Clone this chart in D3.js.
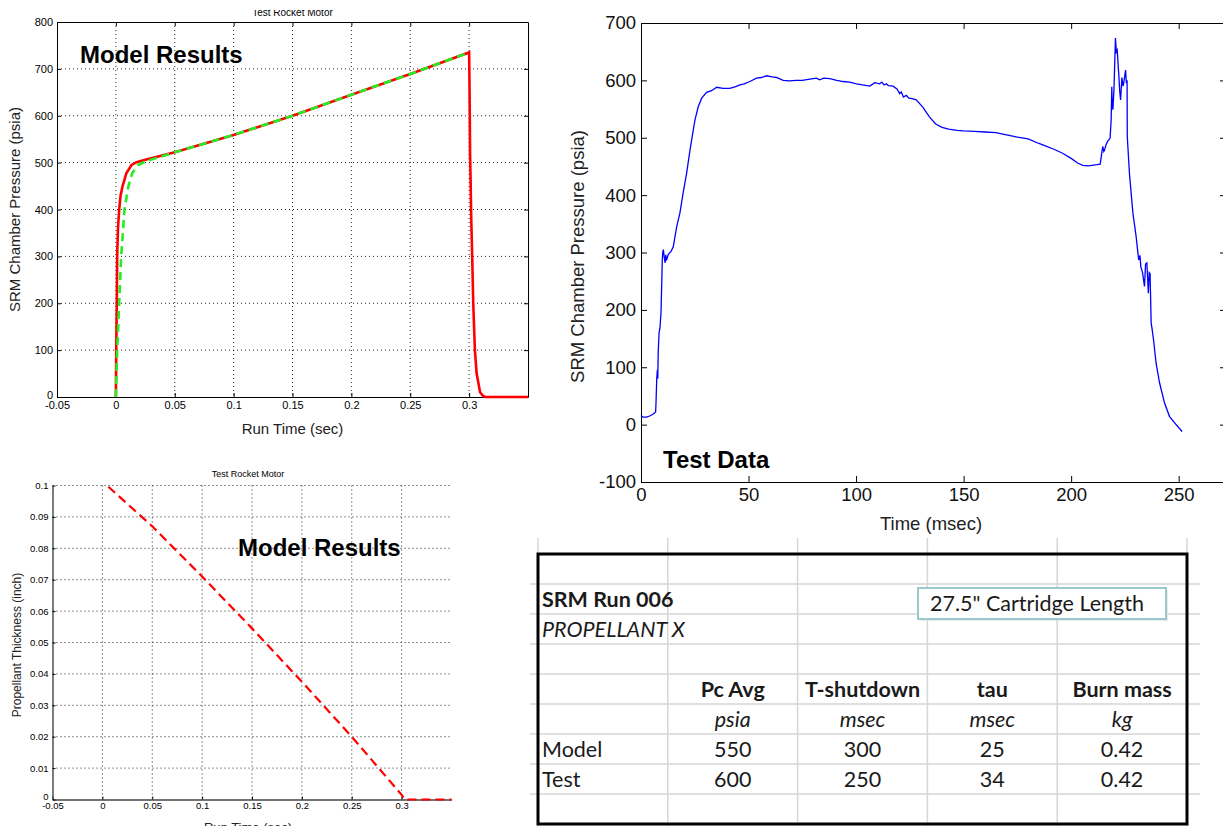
<!DOCTYPE html>
<html><head><meta charset="utf-8">
<script src="https://cdn.jsdelivr.net/npm/d3@7"></script>
<style>body{margin:0;background:#fff}svg{display:block;background:#fff}</style>
</head><body><svg id="c" width="1223" height="826"></svg>
<script>
// ---------------- DATA ----------------
// Panel 1: model chamber pressure (sec, psia)
const redTime = [0,0.0003,0.0008,0.0011,0.0018,0.0028,0.004,0.0057,0.009,0.0133,0.0176,0.025,0.05,0.1,0.15,0.2,0.25,0.3,0.3004,0.3008,0.3012,0.3018,0.3026,0.3035,0.3049,0.3064,0.3093,0.3115,0.3136,0.35];
const redPressure = [0,100,200,300,360,400,430,450,478,495,501,506,522,559,600,645,689,735,650,520,470,380,300,200,100,50,10,3,0,0];
const greenTime = [0,0.0011,0.0028,0.0045,0.0073,0.0107,0.014,0.019,0.0256,0.05,0.1,0.15,0.2,0.25,0.3];
const greenPressure = [0,100,200,300,400,450,478,495,503,522,559,600,645,689,735];
const p1XTicks = [-0.05,0,0.05,0.1,0.15,0.2,0.25,0.3];
const p1XTickLabels = ["-0.05","0","0.05","0.1","0.15","0.2","0.25","0.3"];
const p1YTicks = [0,100,200,300,400,500,600,700,800];
const p1YTickLabels = ["0","100","200","300","400","500","600","700","800"];

// Panel 2: test data (msec, psia)
const testTime = [0,1,2.5,4,5.5,6.8,7,7.3,7.6,7.8,8.0,8.4,8.8,9.3,9.6,9.9,10.1,10.4,10.8,11.2,11.5,11.8,12.7,14,15,16.6,18.1,19.6,21.2,22.8,23.8,25.1,26.6,28.2,30.5,32.8,35.2,38.2,41.3,44,46,48,50.6,53.7,56,58.4,61,63,66.1,69,72.3,75,78.5,81.6,83,85,87.8,91,94,97,100.2,103,106.4,108.7,111,112,113,114.1,115,117.2,119,120.3,121,122,123.4,124.5,126,128,131.1,134.2,137,140,143,147,150,155,160,165,170,175,180,185,188,192,196,200,203,205.4,208,212,213.5,214.7,215.2,215.5,216.2,217,218.1,218.6,218.9,219.1,219.4,219.9,220.6,221,221.4,222.2,222.6,223,223.6,224.1,224.4,225,225.3,225.7,226,226.1,227.1,228.7,230.2,231.4,232,232.4,233.2,234.1,234.6,235.2,235.9,236.3,236.7,237.2,237.7,238.3,239.5,241.1,243.4,245.7,248.8,251.6];
const testPressure = [16,13,13,15,18,22,40,78,95,80,125,160,168,195,240,287,300,305,292,282,296,286,297,302,310,345,369,404,438,479,502,531,554,569,579,582,588,586,586,589,592,594,598,604,605,608,606,605,600,599,600,600,602,604,601,604,603,600,598,597,594,592,590,596,594,597,592,594,591,590,585,577,580,571,574,569,568,566,553,536,524,518,515,513,512,511,510,509,505,501,498,490,486,480,473,464,456,452,451,453,454,485,476,478,488,494,499,531,589,560,549,583,674,650,653,607,580,566,605,590,594,610,618,595,600,502,438,369,328,287,295,275,265,241,280,282,229,265,263,177,165,148,107,73,38,14.5,0,-12];
const p2XTicks = [0,50,100,150,200,250];
const p2XTickLabels = ["0","50","100","150","200","250"];
const p2YTicks = [-100,0,100,200,300,400,500,600,700];
const p2YTickLabels = ["-100","0","100","200","300","400","500","600","700"];

// Panel 3: propellant thickness (sec, inch)
const thickTime = [0.006,0.05,0.1,0.15,0.2,0.25,0.3,0.303,0.35];
const thickValue = [0.0996,0.087,0.071,0.0545,0.0375,0.020,0.0015,0,0];
const p3XTicks = [-0.05,0,0.05,0.1,0.15,0.2,0.25,0.3];
const p3XTickLabels = ["-0.05","0","0.05","0.1","0.15","0.2","0.25","0.3"];
const p3YTicks = [0,0.01,0.02,0.03,0.04,0.05,0.06,0.07,0.08,0.09,0.1];
const p3YTickLabels = ["0","0.01","0.02","0.03","0.04","0.05","0.06","0.07","0.08","0.09","0.1"];

// Table
const tableTitle = "SRM Run 006";
const tableSubtitle = "PROPELLANT X";
const tableNote = "27.5\" Cartridge Length";
const tableHeaders = ["Pc Avg","T-shutdown","tau","Burn mass"];
const tableUnits = ["psia","msec","msec","kg"];
const tableRowLabels = ["Model","Test"];
const pcAvg = ["550","600"];
const tShutdown = ["300","250"];
const tauValues = ["25","34"];
const burnMass = ["0.42","0.42"];

// ---------------- DRAW ----------------
const svg = d3.select("#c");
const FONT = "'Liberation Sans', Arial, Helvetica, sans-serif";
const zip = (a,b)=>a.map((v,i)=>[v,b[i]]);

function grid(g, xs, ys, x, y, box){
  g.append("g").selectAll("line").data(xs).join("line")
    .attr("x1",d=>x(d)).attr("x2",d=>x(d)).attr("y1",box.t).attr("y2",box.b)
    .attr("stroke","#222").attr("stroke-width",1).attr("stroke-dasharray","1,3");
  g.append("g").selectAll("line").data(ys).join("line")
    .attr("y1",d=>y(d)).attr("y2",d=>y(d)).attr("x1",box.l).attr("x2",box.r)
    .attr("stroke","#222").attr("stroke-width",1).attr("stroke-dasharray","1,3");
}
function styleAxis(sel, size, color){
  sel.selectAll("text").attr("font-family",FONT).attr("font-size",size).attr("fill",color||"#000");
  sel.selectAll("line").attr("stroke","#000");
  sel.select(".domain").attr("stroke","#000");
}

// ===== Panel 1 =====
{
  const B = {l:57, r:528, t:22, b:397};
  const x = d3.scaleLinear().domain([-0.05,0.35]).range([B.l,B.r]);
  const y = d3.scaleLinear().domain([0,800]).range([B.b,B.t]);
  const g = svg.append("g");
  grid(g, p1XTicks.slice(1), p1YTicks.slice(1,-1), x, y, B);
  const ax = g.append("g").attr("transform",`translate(0,${B.b})`)
    .call(d3.axisBottom(x).tickValues(p1XTicks).tickFormat((d,i)=>p1XTickLabels[i]).tickSizeInner(-4).tickSizeOuter(0).tickPadding(4));
  styleAxis(ax,"11px");
  const ay = g.append("g").attr("transform",`translate(${B.l},0)`)
    .call(d3.axisLeft(y).tickValues(p1YTicks).tickFormat((d,i)=>p1YTickLabels[i]).tickSizeInner(-4).tickSizeOuter(0).tickPadding(4));
  styleAxis(ay,"11px");
  ay.selectAll(".tick text").filter((d,i)=>i===0).attr("dy","0.1em");
  const at = g.append("g").attr("transform",`translate(0,${B.t})`)
    .call(d3.axisTop(x).tickValues(p1XTicks).tickFormat("").tickSizeInner(-4).tickSizeOuter(0));
  styleAxis(at);
  const ar = g.append("g").attr("transform",`translate(${B.r},0)`)
    .call(d3.axisRight(y).tickValues(p1YTicks).tickFormat("").tickSizeInner(-4).tickSizeOuter(0));
  styleAxis(ar);
  const line = d3.line().x(d=>x(d[0])).y(d=>y(d[1]));
  g.append("path").attr("d",line(zip(redTime,redPressure))).attr("fill","none")
    .attr("stroke","#ff0000").attr("stroke-width",2.6);
  g.append("path").attr("d",line(zip(greenTime,greenPressure))).attr("fill","none")
    .attr("stroke","#22ee22").attr("stroke-width",2.6).attr("stroke-dasharray","8,5");
  svg.append("clipPath").attr("id","t1clip").append("rect").attr("x",150).attr("y",10).attr("width",300).attr("height",12);
  g.append("text").attr("clip-path","url(#t1clip)").attr("x",(B.l+B.r)/2).attr("y",15.5).attr("text-anchor","middle")
    .attr("font-family",FONT).attr("font-size","10px").text("Test Rocket Motor");
  g.append("text").attr("transform",`translate(20,${(B.t+B.b)/2}) rotate(-90)`).attr("text-anchor","middle")
    .attr("font-family",FONT).attr("font-size","15px").attr("fill","#222").text("SRM Chamber Pressure (psia)");
  g.append("text").attr("x",(B.l+B.r)/2).attr("y",434).attr("text-anchor","middle")
    .attr("font-family",FONT).attr("font-size","15px").attr("fill","#222").text("Run Time (sec)");
  g.append("text").attr("x",80).attr("y",63).attr("font-family",FONT).attr("font-weight","bold")
    .attr("font-size","24px").text("Model Results");
}

// ===== Panel 2 =====
{
  const B = {l:641, r:1226, t:23, b:482};
  const x = d3.scaleLinear().domain([0,272]).range([B.l,B.r]);
  const y = d3.scaleLinear().domain([-100,700]).range([B.b,B.t]);
  const g = svg.append("g");
  const ax = g.append("g").attr("transform",`translate(0,${B.b})`)
    .call(d3.axisBottom(x).tickValues(p2XTicks).tickFormat((d,i)=>p2XTickLabels[i]).tickSizeInner(-6).tickSizeOuter(0).tickPadding(6));
  styleAxis(ax,"18.5px","#111");
  const ay = g.append("g").attr("transform",`translate(${B.l},0)`)
    .call(d3.axisLeft(y).tickValues(p2YTicks).tickFormat((d,i)=>p2YTickLabels[i]).tickSizeInner(-6).tickSizeOuter(0).tickPadding(5));
  styleAxis(ay,"18.5px","#111");
  const at = g.append("g").attr("transform",`translate(0,${B.t})`)
    .call(d3.axisTop(x).tickValues(p2XTicks).tickFormat("").tickSizeInner(-6).tickSizeOuter(0));
  styleAxis(at);
  const ar = g.append("g").attr("transform",`translate(${B.r},0)`)
    .call(d3.axisRight(y).tickValues(p2YTicks).tickFormat("").tickSizeInner(-6).tickSizeOuter(0));
  styleAxis(ar);
  const line = d3.line().x(d=>x(d[0])).y(d=>y(d[1]));
  g.append("path").attr("d",line(zip(testTime,testPressure))).attr("fill","none")
    .attr("stroke","#0000ff").attr("stroke-width",1.3);
  g.append("text").attr("transform",`translate(584,${(B.t+B.b)/2+4}) rotate(-90)`).attr("text-anchor","middle")
    .attr("font-family",FONT).attr("font-size","18.5px").attr("fill","#222").text("SRM Chamber Pressure (psia)");
  g.append("text").attr("x",931).attr("y",530).attr("text-anchor","middle")
    .attr("font-family",FONT).attr("font-size","18.5px").attr("fill","#222").text("Time (msec)");
  g.append("text").attr("x",663).attr("y",468).attr("font-family",FONT).attr("font-weight","bold")
    .attr("font-size","24px").text("Test Data");
}

// ===== Panel 3 =====
{
  const B = {l:52.5, r:451.5, t:485.5, b:799.5};
  const x = d3.scaleLinear().domain([-0.05,0.35]).range([B.l,B.r]);
  const y = d3.scaleLinear().domain([0,0.1]).range([B.b,B.t]);
  const g = svg.append("g");
  grid(g, p3XTicks.slice(1), p3YTicks.slice(1), x, y, B);
  const ax = g.append("g").attr("transform",`translate(0,${B.b})`)
    .call(d3.axisBottom(x).tickValues(p3XTicks).tickFormat((d,i)=>p3XTickLabels[i]).tickSizeInner(-3).tickSizeOuter(0).tickPadding(3));
  styleAxis(ax,"9.5px");
  ax.select(".domain").attr("stroke","#444").attr("stroke-width",1.6);
  const ay = g.append("g").attr("transform",`translate(${B.l},0)`)
    .call(d3.axisLeft(y).tickValues(p3YTicks).tickFormat((d,i)=>p3YTickLabels[i]).tickSizeInner(-3).tickSizeOuter(0).tickPadding(4));
  styleAxis(ay,"9.5px");
  ay.selectAll(".tick text").filter((d,i)=>i===0).attr("dy","0.05em");
  ay.select(".domain").attr("stroke","#444").attr("stroke-width",1.4);
  const line = d3.line().x(d=>x(d[0])).y(d=>y(d[1]));
  g.append("path").attr("d",line(zip(thickTime,thickValue))).attr("fill","none")
    .attr("stroke","#ff0000").attr("stroke-width",2.2).attr("stroke-dasharray","9,5");
  g.append("text").attr("x",248).attr("y",477).attr("text-anchor","middle")
    .attr("font-family",FONT).attr("font-size","9px").text("Test Rocket Motor");
  g.append("text").attr("transform",`translate(21,645) rotate(-90)`).attr("text-anchor","middle")
    .attr("font-family",FONT).attr("font-size","12px").attr("fill","#222").text("Propellant Thickness (inch)");
  g.append("text").attr("x",248).attr("y",832).attr("text-anchor","middle")
    .attr("font-family",FONT).attr("font-size","13px").attr("fill","#222").text("Run Time (sec)");
  g.append("text").attr("x",238).attr("y",556).attr("font-family",FONT).attr("font-weight","bold")
    .attr("font-size","24px").text("Model Results");
}

// ===== Table =====
{
  const TF = "Lato, 'Open Sans', sans-serif";
  const cx = d3.scaleLinear().domain([0,5]).range([538,1187]);
  const ry = d3.scaleLinear().domain([0,9]).range([554,824]);
  const g = svg.append("g");
  g.append("g").selectAll("line").data(d3.range(0,6)).join("line")
    .attr("x1",d=>cx(d)).attr("x2",d=>cx(d)).attr("y1",538).attr("y2",826)
    .attr("stroke","#d6d6d6").attr("stroke-width",1.5);
  g.append("g").selectAll("line").data(d3.range(1,9)).join("line")
    .attr("y1",d=>ry(d)).attr("y2",d=>ry(d)).attr("x1",530).attr("x2",1200)
    .attr("stroke","#d6d6d6").attr("stroke-width",1.5);
  g.append("rect").attr("x",cx(0)).attr("y",ry(0)).attr("width",cx(5)-cx(0)).attr("height",ry(9)-ry(0))
    .attr("fill","none").attr("stroke","#000").attr("stroke-width",3);
  const rc = i => (ry(i)+ry(i+1))/2;
  const cc = i => (cx(i)+cx(i+1))/2;
  const txt = (x,y,s,o={}) => g.append("text").attr("x",x).attr("y",y).attr("dy","0.36em")
    .attr("font-family",TF).attr("font-size",o.size||"21.5px").attr("fill","#1a1a1a")
    .attr("font-weight",o.bold?"bold":"normal").attr("font-style",o.italic?"italic":"normal")
    .attr("text-anchor",o.anchor||"start").text(s);
  txt(542, rc(1), tableTitle, {bold:true});
  txt(542, rc(2), tableSubtitle, {italic:true});
  g.append("rect").attr("x",920).attr("y",590).attr("width",248).attr("height",31).attr("fill","#ddd").attr("opacity",0.6);
  g.append("rect").attr("x",918).attr("y",588).attr("width",248).attr("height",31)
    .attr("fill","#fff").attr("stroke","#97c9cd").attr("stroke-width",2);
  txt(930, 603.5, tableNote);
  tableHeaders.forEach((h,i)=>txt(cc(i+1), rc(4), h, {bold:true, anchor:"middle"}));
  tableUnits.forEach((h,i)=>txt(cc(i+1), rc(5), h, {italic:true, anchor:"middle"}));
  tableRowLabels.forEach((lab,r)=>{
    txt(542, rc(6+r), lab);
    [pcAvg,tShutdown,tauValues,burnMass].forEach((col,i)=>txt(cc(i+1), rc(6+r), col[r], {anchor:"middle"}));
  });
}
</script></body></html>
